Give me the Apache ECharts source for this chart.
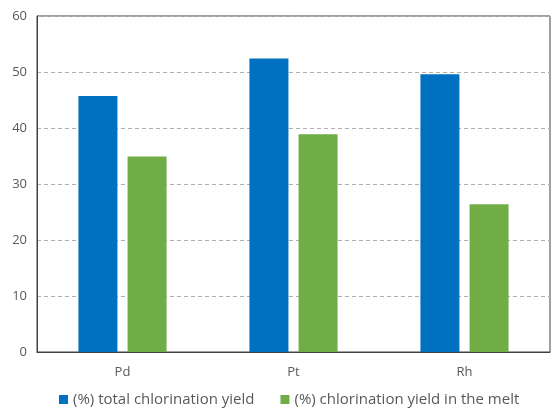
<!DOCTYPE html>
<html>
<head>
<meta charset="utf-8">
<script src="https://cdn.jsdelivr.net/npm/echarts@6/dist/echarts.min.js"></script>
<style>
  html, body { margin: 0; padding: 0; background: #fff; }
  #chart { width: 551px; height: 409px; }
</style>
</head>
<body>
<div id="chart"></div>
<script>
// categories and values
const metals = ['Pd', 'Pt', 'Rh']
const totalYield = [45.7, 52.4, 49.6]
const meltYield = [34.9, 38.9, 26.4]
const seriesNames = ['(%) total chlorination yield', '(%) chlorination yield in the melt']

const chart = echarts.init(document.getElementById('chart'))

const textColor = '#595959'
const font = 'Open Sans'

chart.setOption({
  animation: false,
  textStyle: { fontFamily: font },
  grid: {
    left: 37,
    right: 1,
    top: 16,
    bottom: 57,
    show: true,
    borderColor: '#404040',
    borderWidth: 1
  },
  legend: {
    top: 387,
    left: 54,
    itemWidth: 9,
    itemHeight: 9,
    itemGap: 26,
    icon: 'rect',
    textStyle: { color: textColor, fontSize: 15, fontFamily: font },
    data: seriesNames
  },
  xAxis: {
    type: 'category',
    data: metals,
    axisLine: { show: true, lineStyle: { color: '#404040' } },
    axisTick: { show: false },
    axisLabel: { color: textColor, fontSize: 13, margin: 14 }
  },
  yAxis: {
    type: 'value',
    min: 0,
    max: 60,
    interval: 10,
    axisLine: { show: true, lineStyle: { color: '#404040' } },
    axisTick: { show: false },
    axisLabel: { color: textColor, fontSize: 13, margin: 10 },
    splitLine: { lineStyle: { color: '#b0b0b0', type: [4, 3] } }
  },
  series: [
    {
      name: seriesNames[0],
      type: 'bar',
      data: totalYield,
      barWidth: 39,
      barGap: '26%',
      itemStyle: { color: '#0070c0' }
    },
    {
      name: seriesNames[1],
      type: 'bar',
      data: meltYield,
      barWidth: 39,
      itemStyle: { color: '#70ad47' }
    }
  ]
})
</script>
</body>
</html>
